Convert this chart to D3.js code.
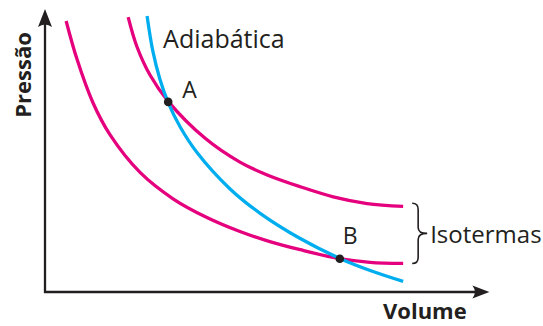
<!DOCTYPE html>
<html>
<head>
<meta charset="utf-8">
<script src="https://cdn.jsdelivr.net/npm/d3@7"></script>
<style>
  html, body { margin: 0; padding: 0; background: #fff; }
  svg { display: block; }
  text { font-family: "Open Sans", "Noto Sans", sans-serif; fill: #231f20; }
</style>
</head>
<body>
<svg id="chart" width="543" height="326"></svg>
<script>
// Volume / pressure samples (arbitrary units)
const isoLowV  = [0.48, 0.73, 1.09, 1.48, 2.16, 2.91, 3.68, 4.43, 5.11, 5.80, 6.70, 7.39, 8.14];
const isoLowP  = [9.68, 8.30, 6.76, 5.61, 4.27, 3.33, 2.66, 2.16, 1.80, 1.51, 1.19, 1.06, 1.02];
const isoHighV = [1.89, 2.09, 2.39, 2.80, 3.64, 4.43, 5.05, 5.80, 6.55, 7.32, 8.14];
const isoHighP = [9.82, 8.76, 7.74, 6.81, 5.49, 4.64, 4.18, 3.76, 3.40, 3.16, 3.06];
const adiaV    = [2.32, 2.45, 2.61, 2.80, 3.07, 3.45, 4.20, 4.89, 5.80, 6.70, 7.39, 8.14];
const adiaP    = [9.86, 8.61, 7.61, 6.76, 5.90, 4.99, 3.69, 2.81, 1.91, 1.20, 0.77, 0.38];
const pointNames = ["A", "B"];
const pointV = [2.80, 6.70];
const pointP = [6.79, 1.19];
const axisLabels = { x: "Volume", y: "Pressão" };
const curveLabel = "Adiabática";
const braceLabel = "Isotermas";

const svg = d3.select("#chart");
const x = d3.scaleLinear().domain([0, 10]).range([45, 485]);
const y = d3.scaleLinear().domain([0, 10]).range([292, 12]);

const ink = "#231f20";
const magenta = "#e5007e";
const cyan = "#00aeef";

// Axes
svg.append("line").attr("x1", x(0)).attr("y1", y(0) + 1).attr("x2", x(0)).attr("y2", y(9.6))
  .attr("stroke", ink).attr("stroke-width", 2.3);
svg.append("line").attr("x1", x(0) - 1).attr("y1", y(0)).attr("x2", x(9.9)).attr("y2", y(0))
  .attr("stroke", ink).attr("stroke-width", 2.3);
// arrow heads
const ya = { x: x(0), y: y(0) - 283 };
svg.append("path")
  .attr("d", `M${ya.x},${ya.y} L${ya.x + 7},${ya.y + 18} Q${ya.x},${ya.y + 13} ${ya.x - 7},${ya.y + 18} Z`)
  .attr("fill", ink);
const xa = { x: x(10.1), y: y(0) };
svg.append("path")
  .attr("d", `M${xa.x},${xa.y} L${xa.x - 17},${xa.y - 6.5} Q${xa.x - 12},${xa.y} ${xa.x - 17},${xa.y + 6.5} Z`)
  .attr("fill", ink);

// Curves
const line = d3.line().x(d => x(d[0])).y(d => y(d[1])).curve(d3.curveCatmullRom.alpha(0.5));
const series = [
  { v: isoLowV, p: isoLowP, c: magenta },
  { v: isoHighV, p: isoHighP, c: magenta },
  { v: adiaV, p: adiaP, c: cyan }
];
series.forEach(s => {
  svg.append("path")
    .datum(s.v.map((v, i) => [v, s.p[i]]))
    .attr("d", line)
    .attr("fill", "none")
    .attr("stroke", s.c)
    .attr("stroke-width", 3.3)
    .attr("stroke-linecap", "butt");
});

// Points
svg.selectAll("circle.pt").data(pointNames).enter().append("circle")
  .attr("class", "pt")
  .attr("cx", (d, i) => x(pointV[i]))
  .attr("cy", (d, i) => y(pointP[i]))
  .attr("r", 4.3)
  .attr("fill", ink);
const labelOffset = [[14, -4], [3, -15]];
svg.selectAll("text.pt").data(pointNames).enter().append("text")
  .attr("class", "pt")
  .attr("x", (d, i) => x(pointV[i]) + labelOffset[i][0])
  .attr("y", (d, i) => y(pointP[i]) + labelOffset[i][1])
  .attr("font-size", 23)
  .text(d => d);

// Curve label
svg.append("text")
  .attr("x", x(adiaV[0]) + 16)
  .attr("y", 48)
  .attr("font-size", 25)
  .text(curveLabel);

// Brace
const bx0 = x(isoHighV[isoHighV.length - 1]) + 9;
const yT = y(isoHighP[isoHighP.length - 1]) - 3;
const yB = y(isoLowP[isoLowP.length - 1]);
const yM = (yT + yB) / 2;
const bv = bx0 + 6, tip = bx0 + 15;
svg.append("path")
  .attr("d", `M${bx0},${yT} Q${bv},${yT} ${bv},${yT + 6} L${bv},${yM - 6} Q${bv},${yM} ${tip},${yM} Q${bv},${yM} ${bv},${yM + 6} L${bv},${yB - 6} Q${bv},${yB} ${bx0},${yB}`)
  .attr("fill", "none").attr("stroke", ink).attr("stroke-width", 1.6);
svg.append("text")
  .attr("x", tip + 3)
  .attr("y", yM + 10)
  .attr("font-size", 24)
  .text(braceLabel);

// Axis titles
svg.append("text")
  .attr("x", 383).attr("y", 319)
  .attr("font-size", 22).attr("font-weight", "bold")
  .text(axisLabels.x);
svg.append("text")
  .attr("transform", "translate(31,75) rotate(-90)")
  .attr("text-anchor", "middle")
  .attr("font-size", 22).attr("font-weight", "bold")
  .text(axisLabels.y);
</script>
</body>
</html>
